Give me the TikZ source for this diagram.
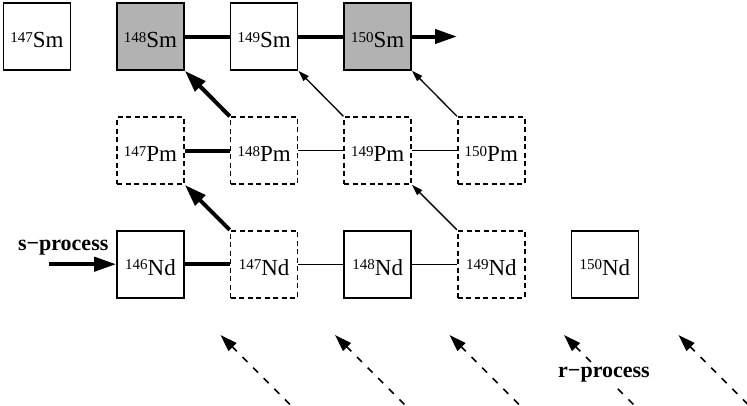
\documentclass[tikz,border=0pt]{standalone}
\usepackage{fontspec}
\setmainfont{Liberation Serif}
\usetikzlibrary{positioning}
\usetikzlibrary{arrows.meta}
\newcommand\iso[2]{\raisebox{5.5pt}{\fontsize{15}{15}\selectfont #1}#2}
\tikzset{
  nuclide/.style= {
    rectangle,
    draw,
    line width = 1.6pt,
    minimum size = 67pt,
    inner sep = 0pt,
    text height = 22pt,
    text depth = 0pt,
    font = \fontsize{23}{26}\selectfont
  },
  sonly/.style= {
    nuclide,
    fill = black!30
  },
  shortlived/.style= {
    nuclide,
    dash pattern = on 5pt off 3.5pt
  },
  mainflow/.style= {
    line width = 4pt
  },
  sideflow/.style= {
    line width = 1.3pt
  },
  mainbeta/.style= {
    mainflow,
    -{Triangle[length=22pt,width=14pt]}
  },
  sidebeta/.style= {
    sideflow,
    -{Triangle[length=11pt,width=7pt]}
  },
  rflow/.style= {
    line width = 1.5pt,
    dash pattern = on 7pt off 8pt,
    -{Triangle[length=17pt,width=11pt]}
  },
  procname/.style= {
    font = \fontsize{22}{24}\selectfont\bfseries,
    inner sep = 0pt
  }
}

\begin{document}
\begin{tikzpicture}[x=1pt,y=1pt,node distance=45pt]
  \useasboundingbox (0,0) rectangle (747,-405);

  % Sm row
  \node[sonly] (sm148) at (150.5,-36.5) {\iso{148}{Sm}};
  \node[nuclide,left=of sm148] (sm147) {\iso{147}{Sm}};
  \node[nuclide,right=of sm148] (sm149) {\iso{149}{Sm}};
  \node[sonly,right=of sm149] (sm150) {\iso{150}{Sm}};
  \coordinate[right=of sm150] (smout);

  % Pm row
  \node[shortlived,below=45.5pt of sm148] (pm147) {\iso{147}{Pm}};
  \node[shortlived,right=of pm147] (pm148) {\iso{148}{Pm}};
  \node[shortlived,right=of pm148] (pm149) {\iso{149}{Pm}};
  \node[shortlived,right=of pm149] (pm150) {\iso{150}{Pm}};

  % Nd row
  \node[nuclide,below=of pm147] (nd146) {\iso{146}{Nd}};
  \node[shortlived,right=of nd146] (nd147) {\iso{147}{Nd}};
  \node[nuclide,right=of nd147] (nd148) {\iso{148}{Nd}};
  \node[shortlived,right=of nd148] (nd149) {\iso{149}{Nd}};
  \node[nuclide,right=of nd149] (nd150) {\iso{150}{Nd}};

  % neutron captures
  \draw[mainflow] (sm148) -- (sm149);
  \draw[mainflow] (sm149) -- (sm150);
  \draw[mainbeta] (sm150) -- (smout);
  \draw[mainflow] (pm147) -- (pm148);
  \draw[sideflow] (pm148) -- (pm149);
  \draw[sideflow] (pm149) -- (pm150);
  \draw[mainflow] (nd146) -- (nd147);
  \draw[sideflow] (nd147) -- (nd148);
  \draw[sideflow] (nd148) -- (nd149);

  % beta decays
  \draw[mainbeta] (nd147.north west) -- (pm147.south east);
  \draw[mainbeta] (pm148.north west) -- (sm148.south east);
  \draw[sidebeta] (pm149.north west) -- (sm149.south east);
  \draw[sidebeta] (pm150.north west) -- (sm150.south east);
  \draw[sidebeta] (nd149.north west) -- (pm149.south east);

  % s-process feed
  \coordinate[left=67pt of nd146] (sfeed);
  \draw[mainbeta] (sfeed) -- (nd146);
  \node[procname,above=9pt of sfeed,xshift=14pt] (slab) {s−process};

  % r-process feed
  \begin{scope}
    \clip (0,0) rectangle (747,-405);
    \foreach \i in {0,...,4} {
      \pgfmathsetmacro\tx{220.5+114.5*\i}
      \coordinate (rtip\i) at (\tx,-335);
      \coordinate (rtail\i) at (\tx+80,-415);
      \draw[rflow] (rtail\i) -- (rtip\i);
    }
  \end{scope}
  \path (rtail3) -- (rtip3) node[midway,procname,fill=white,inner sep=2pt] (rlab) {r−process};

\end{tikzpicture}
\end{document}
